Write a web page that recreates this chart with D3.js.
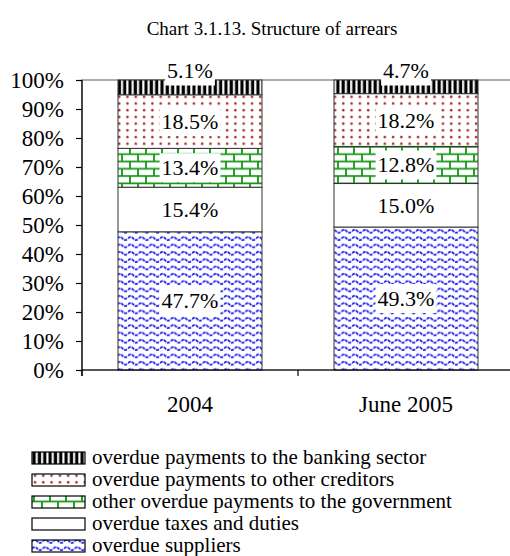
<!DOCTYPE html>
<html>
<head>
<meta charset="utf-8">
<script src="https://cdn.jsdelivr.net/npm/d3@7"></script>
<style>
  html, body { margin: 0; padding: 0; background: #fff; }
  svg { display: block; }
  text { font-family: "Liberation Serif", "Times New Roman", serif; fill: #000; }
</style>
</head>
<body>
<svg id="chart" width="510" height="556"></svg>
<script>
// Structure of arrears, 100% stacked columns
const categories = ["2004", "June 2005"];
const seriesNames = [
  "overdue suppliers",
  "overdue taxes and duties",
  "other overdue payments to the government",
  "overdue payments to other creditors",
  "overdue payments to the banking sector"
];
const suppliers   = [47.7, 49.3];
const taxes       = [15.4, 15.0];
const government  = [13.4, 12.8];
const creditors   = [18.5, 18.2];
const banking     = [5.1, 4.7];
const yTickValues = [0, 0.1, 0.2, 0.3, 0.4, 0.5, 0.6, 0.7, 0.8, 0.9, 1];
const titleText = "Chart 3.1.13. Structure of arrears";

const seriesValues = [suppliers, taxes, government, creditors, banking];
const patternIds = ["pWave", "pPlain", "pBrick", "pDots", "pStripe"];

const rows = categories.map((c, i) => {
  const r = { category: c };
  seriesNames.forEach((s, k) => { r[s] = seriesValues[k][i]; });
  return r;
});

const serif = "'Liberation Serif', 'Times New Roman', serif";
const svg = d3.select("#chart");
const defs = svg.append("defs");

// fill patterns
const stripe = defs.append("pattern").attr("id", "pStripe")
  .attr("patternUnits", "userSpaceOnUse").attr("width", 5.33).attr("height", 10);
stripe.append("rect").attr("width", 5.33).attr("height", 10).attr("fill", "#fff");
stripe.append("rect").attr("x", 0.5).attr("width", 3.2).attr("height", 10).attr("fill", "#000");

const dots = defs.append("pattern").attr("id", "pDots")
  .attr("patternUnits", "userSpaceOnUse").attr("width", 8.3).attr("height", 6.7);
dots.append("rect").attr("width", 8.3).attr("height", 6.7).attr("fill", "#fff");
dots.append("circle").attr("cx", 3).attr("cy", 3).attr("r", 1.25).attr("fill", "#a82c2c");

const brick = defs.append("pattern").attr("id", "pBrick")
  .attr("patternUnits", "userSpaceOnUse").attr("width", 16).attr("height", 14.6);
brick.append("rect").attr("width", 16).attr("height", 14.6).attr("fill", "#fff");
brick.append("path")
  .attr("d", "M0,0.8H16M0,8.1H16M2,0.8V8.1M10,8.1V14.6M10,0V0.8")
  .attr("stroke", "#129612").attr("stroke-width", 1.8).attr("fill", "none");

const wave = defs.append("pattern").attr("id", "pWave")
  .attr("patternUnits", "userSpaceOnUse").attr("width", 10.67).attr("height", 7.33);
wave.append("rect").attr("width", 10.67).attr("height", 7.33).attr("fill", "#fff");
wave.append("path")
  .attr("d", "M0,4 Q2.67,1 5.33,4 T10.67,4")
  .attr("stroke", "#1c1cf0").attr("stroke-width", 1.8)
  .attr("stroke-dasharray", "3 1").attr("fill", "none");

const plain = defs.append("pattern").attr("id", "pPlain")
  .attr("patternUnits", "userSpaceOnUse").attr("width", 4).attr("height", 4);
plain.append("rect").attr("width", 4).attr("height", 4).attr("fill", "#fff");

// scales
const x = d3.scaleBand().domain(categories).range([82, 514])
  .paddingInner(1 / 3).paddingOuter(1 / 6);
const y = d3.scaleLinear().domain([0, 1]).range([370, 80]);

const stack = d3.stack().keys(seriesNames).offset(d3.stackOffsetExpand);
const stacked = stack(rows);

// title
svg.append("text").attr("x", 272).attr("y", 35)
  .attr("text-anchor", "middle").style("font-size", "19px").text(titleText);

// plot area border
svg.append("rect")
  .attr("x", x.range()[0]).attr("y", y(1))
  .attr("width", x.range()[1] - x.range()[0]).attr("height", y(0) - y(1))
  .attr("fill", "none").attr("stroke", "#999").attr("stroke-width", 1.6);

// bars
const layers = svg.append("g").selectAll("g").data(stacked).join("g")
  .attr("fill", (d, i) => `url(#${patternIds[i]})`);
layers.selectAll("rect").data(d => d).join("rect")
  .attr("x", d => x(d.data.category))
  .attr("width", x.bandwidth())
  .attr("y", d => y(d[1]))
  .attr("height", d => y(d[0]) - y(d[1]))
  .attr("stroke", "#333").attr("stroke-width", 1);

// value labels with white boxes
const labelSize = 22;
const labels = svg.append("g");
stacked.forEach((layer, li) => {
  layer.forEach((d, ci) => {
    const raw = seriesValues[li][ci];
    const cx = x(d.data.category) + x.bandwidth() / 2;
    const isTop = li === stacked.length - 1;
    const cy = isTop ? y(d[1]) - 9 : (y(d[0]) + y(d[1])) / 2;
    const g = labels.append("g");
    const box = g.append("rect").attr("fill", "#fff");
    const t = g.append("text")
      .attr("x", cx).attr("y", cy + 0.34 * labelSize)
      .attr("text-anchor", "middle").style("font-size", labelSize + "px")
      .style("font-family", serif)
      .text(raw.toFixed(1) + "%");
    const w = t.node().getComputedTextLength();
    box.attr("x", cx - w / 2 - 2).attr("width", w + 4)
      .attr("y", cy - 14.5).attr("height", 29);
  });
});

// y axis
const yAxis = svg.append("g").attr("transform", `translate(${x.range()[0]},0)`)
  .call(d3.axisLeft(y).tickValues(yTickValues).tickFormat(d3.format(".0%"))
    .tickSize(6).tickPadding(12));
yAxis.attr("font-family", null);
yAxis.select(".domain").attr("stroke", "#000").attr("stroke-width", 1.2)
  .attr("d", `M0,${y(1)}V${y(0) + 6}`);
yAxis.selectAll(".tick line").attr("stroke", "#000").attr("stroke-width", 1.2);
yAxis.selectAll(".tick text").style("font-size", "23px").style("font-family", serif);

// x axis
const xAxis = svg.append("g").attr("transform", `translate(0,${y(0)})`)
  .call(d3.axisBottom(x).tickSize(0).tickPadding(26));
xAxis.attr("font-family", null);
xAxis.select(".domain").attr("stroke", "#000").attr("stroke-width", 1.2)
  .attr("d", `M${x.range()[0]},0H${x.range()[1]}`);
xAxis.selectAll(".tick text").style("font-size", "23px").style("font-family", serif);
const bounds = d3.range(categories.length + 1).map(i => x.range()[0] + i * x.step());
xAxis.selectAll(".bound").data(bounds).join("line").attr("class", "bound")
  .attr("x1", d => d).attr("x2", d => d).attr("y1", 0).attr("y2", 6)
  .attr("stroke", "#000").attr("stroke-width", 1.2);

// legend
const legendItems = seriesNames.map((s, i) => ({ name: s, pat: patternIds[i] })).reverse();
const legend = svg.append("g").selectAll("g").data(legendItems).join("g")
  .attr("transform", (d, i) => `translate(32,${464 + i * 22})`);
legend.append("rect").attr("x", 0).attr("y", -12).attr("width", 53).attr("height", 12)
  .attr("fill", d => `url(#${d.pat})`).attr("stroke", "#000").attr("stroke-width", 1.2);
legend.append("text").attr("x", 60).attr("y", 0)
  .style("font-size", "21px").style("font-family", serif).text(d => d.name);
</script>
</body>
</html>
